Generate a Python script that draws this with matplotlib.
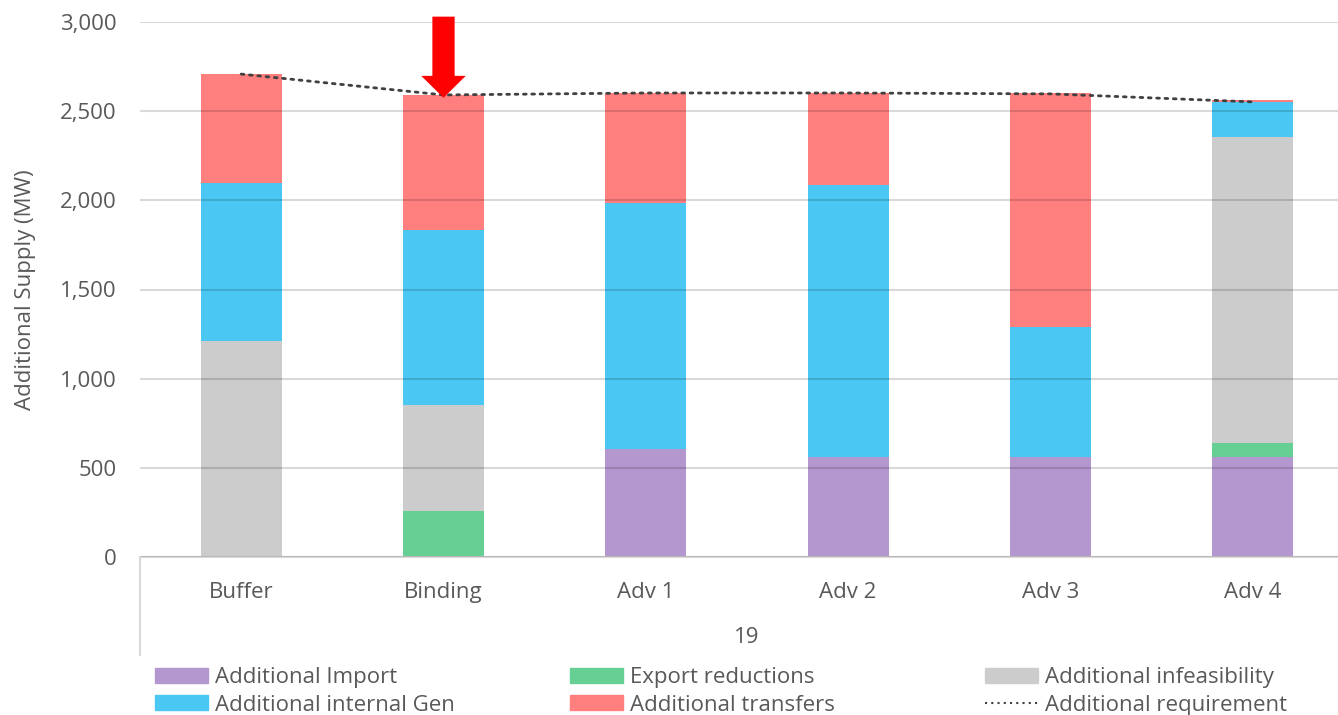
import matplotlib
matplotlib.use("Agg")
import matplotlib.pyplot as plt
from matplotlib.patches import Patch, FancyArrow
from matplotlib.lines import Line2D
import numpy as np

plt.rcParams['font.family'] = ['Open Sans', 'DejaVu Sans']

categories = ['Buffer', 'Binding', 'Adv 1', 'Adv 2', 'Adv 3', 'Adv 4']
group_label = '19'

additional_import = [0, 0, 606, 561, 561, 561]
export_reductions = [0, 258, 0, 0, 0, 78]
additional_infeasibility = [1211, 594, 0, 0, 0, 1716]
additional_internal_gen = [886, 982, 1379, 1525, 729, 198]
additional_transfers = [611, 757, 617, 516, 1312, 10]
additional_requirement = [2708, 2591, 2602, 2602, 2597, 2552]

series = [
    ('Additional Import', additional_import, '#b497cf'),
    ('Export reductions', export_reductions, '#66cf94'),
    ('Additional infeasibility', additional_infeasibility, '#cccccc'),
    ('Additional internal Gen', additional_internal_gen, '#4ac8f3'),
    ('Additional transfers', additional_transfers, '#ff7f7f'),
]

txt = '#595959'
grid_c = '#d9d9d9'
fs = 16

fig = plt.figure(figsize=(13.38, 7.15), dpi=100)
W, H = 1338, 715
ax = fig.add_axes([140 / W, (H - 557) / H, 1214 / W, (557 - 22) / H])

x = np.arange(len(categories))
bottom = np.zeros(len(categories))
for name, vals, col in series:
    vals = np.array(vals, dtype=float)
    ax.bar(x, vals, 0.4, bottom=bottom, color=col, zorder=2, linewidth=0)
    bottom += vals

ax.plot(x, additional_requirement, color='#404040', linestyle=(0, (1, 2)),
        linewidth=2, zorder=4, dash_capstyle='round')

ax.set_xlim(-0.5, len(categories) - 0.5)
ax.set_ylim(0, 3000)
ax.set_yticks(np.arange(0, 3001, 500))
ax.yaxis.set_major_formatter(matplotlib.ticker.FuncFormatter(lambda v, p: f'{int(v):,}'))
ax.grid(axis='y', color='black', alpha=0.15, linewidth=1.5, zorder=3)
ax.set_axisbelow(False)
for s in ['top', 'right', 'left']:
    ax.spines[s].set_visible(False)
ax.spines['bottom'].set_color(grid_c)
ax.spines['bottom'].set_linewidth(1.5)
ax.tick_params(axis='both', length=0, labelsize=fs, colors=txt)
ax.tick_params(axis='y', pad=17)
ax.tick_params(axis='x', pad=18)
ax.set_xticks(x)
ax.set_xticklabels(categories)
ax.set_ylabel('Additional Supply (MW)', fontsize=fs, color=txt, labelpad=17)

# group label and box line
ax.text(2.5, -0.15, group_label, transform=ax.get_xaxis_transform(),
        ha='center', va='center', fontsize=fs, color=txt)
fig.add_artist(Line2D([140 / W, 140 / W], [(H - 557) / H, (H - 655) / H],
                      color=grid_c, linewidth=1.5))

# red arrow pointing at Binding
arr = FancyArrow(1, 3030, 0, -455, width=0.11, head_width=0.22,
                 head_length=123, length_includes_head=True,
                 color='#ff0000', linewidth=0, clip_on=False, zorder=5)
ax.add_patch(arr)

handles = [Patch(color=c, label=n) for n, v, c in series]
handles.append(Line2D([], [], color='#404040', linestyle=(0, (1, 2)), linewidth=1.5,
                      label='Additional requirement'))
cols = [[handles[0], handles[3]], [handles[1], handles[4]], [handles[2], handles[5]]]
xs = [155, 570, 985]
for hs, xp in zip(cols, xs):
    fig.legend(handles=hs, loc='upper left', bbox_to_anchor=(xp / W, (H - 667) / H),
               frameon=False, fontsize=fs, handlelength=2.4, handleheight=0.65,
               handletextpad=0.3, labelspacing=0.3, borderpad=0, borderaxespad=0,
               labelcolor=txt)

fig.savefig('out.png', dpi=100)
